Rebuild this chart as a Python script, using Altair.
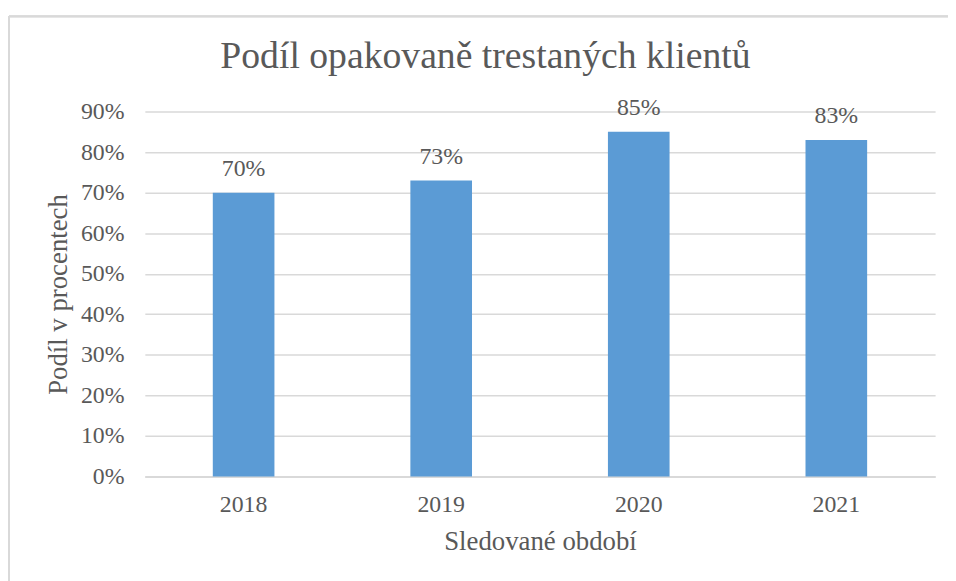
import altair as alt
import pandas as pd

years = ["2018", "2019", "2020", "2021"]
shares = [0.70, 0.73, 0.85, 0.83]

df = pd.DataFrame({"rok": years, "podil": shares})

FONT = "Liberation Serif"
GREY = "#595959"

base = alt.Chart(df)

bars = base.mark_bar(color="#5B9BD5").encode(
    x=alt.X(
        "rok:N",
        sort=years,
        scale=alt.Scale(paddingInner=0.688, paddingOuter=0.344),
        axis=alt.Axis(
            title="Sledované období",
            labelAngle=0,
            ticks=False,
            domain=True,
            domainColor="#d9d9d9",
            domainWidth=2,
            labelFont=FONT,
            labelFontSize=24,
            labelColor=GREY,
            labelPadding=16,
            titleFont=FONT,
            titleFontSize=27,
            titleFontWeight="normal",
            titleColor=GREY,
            titlePadding=13,
            grid=False,
        ),
    ),
    y=alt.Y(
        "podil:Q",
        scale=alt.Scale(domain=[0, 0.9], nice=False),
        axis=alt.Axis(
            title="Podíl v procentech",
            format=".0%",
            values=[0, 0.1, 0.2, 0.3, 0.4, 0.5, 0.6, 0.7, 0.8, 0.9],
            ticks=False,
            domain=False,
            grid=True,
            gridColor="#d9d9d9",
            gridWidth=1.5,
            labelFont=FONT,
            labelFontSize=24,
            labelColor=GREY,
            labelPadding=21,
            titleFont=FONT,
            titleFontSize=27,
            titleFontWeight="normal",
            titleColor=GREY,
            titlePadding=8,
        ),
    ),
)

labels = base.mark_text(
    font=FONT, fontSize=24, color=GREY, baseline="alphabetic", dy=-17
).encode(
    x=alt.X("rok:N", sort=years),
    y=alt.Y("podil:Q"),
    text=alt.Text("podil:Q", format=".0%"),
)

frame_top = alt.Chart(df).mark_rule(color="#d9d9d9", strokeWidth=2).encode(
    x=alt.value(-137), x2=alt.value(830), y=alt.value(-96)
)
frame_left = alt.Chart(df).mark_rule(color="#d9d9d9", strokeWidth=2).encode(
    x=alt.value(-137), y=alt.value(-96), y2=alt.value(480)
)

chart = (
    alt.layer(frame_top, frame_left, bars, labels)
    .properties(
        width=797,
        height=368,
        autosize=alt.AutoSizeParams(type="none"),
        padding={"left": 138, "top": 102, "right": 13, "bottom": 103},
        title=alt.TitleParams(
            "Podíl opakovaně trestaných klientů",
            font=FONT,
            fontSize=38,
            fontWeight="normal",
            color=GREY,
            anchor="middle",
            baseline="alphabetic",
            dx=-55,
            offset=-91,
        ),
    )
    .configure_view(stroke=None)
)

chart.save("out.html", embed_options={"renderer": "svg", "actions": False})
